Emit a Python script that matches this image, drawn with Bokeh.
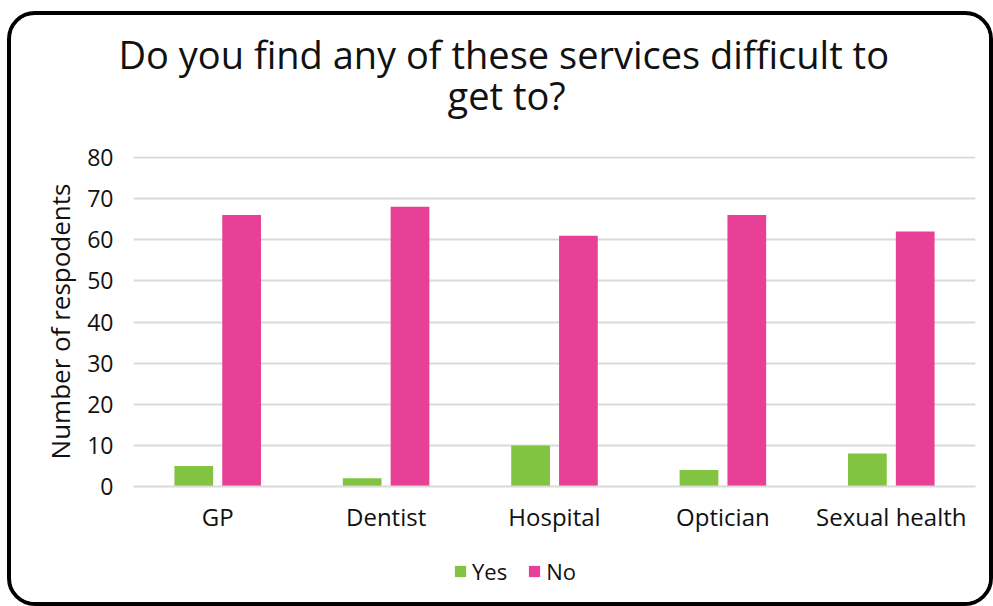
from bokeh.plotting import figure
from bokeh.layouts import column
from bokeh.models import (ColumnDataSource, FactorRange, Range1d, FixedTicker, Title,
                          Legend, LegendItem)
from bokeh.transform import dodge
from bokeh.embed import file_html
from bokeh.resources import INLINE

# ---- data ----
categories = ["GP", "Dentist", "Hospital", "Optician", "Sexual health"]
yes_counts = [5, 2, 10, 4, 8]
no_counts = [66, 68, 61, 66, 62]
y_ticks = [0, 10, 20, 30, 40, 50, 60, 70, 80]
title_lines = ["Do you find any of these services difficult to", "get to?"]
y_label = "Number of respodents"
series_names = ["Yes", "No"]

# ---- style ----
FONT = "Open Sans"
GREEN = "#82C341"
PINK = "#E84096"
GRID = "#D9D9D9"
TXT = "#111111"
W = 978
H_MAIN, H_LEG = 531, 56

src = ColumnDataSource(dict(cat=categories, yes=yes_counts, no=no_counts))

p = figure(width=W, height=H_MAIN, x_range=FactorRange(*categories),
           y_range=Range1d(0, 80.25),
           output_backend="svg", toolbar_location=None,
           min_border_left=122, min_border_right=14, min_border_top=141,
           min_border_bottom=60)

p.vbar(x=dodge("cat", -0.142, range=p.x_range), top="yes", width=0.23,
       source=src, fill_color=GREEN, line_color=None)
p.vbar(x=dodge("cat", 0.142, range=p.x_range), top="no", width=0.23,
       source=src, fill_color=PINK, line_color=None)

# axes
p.xaxis.axis_line_color = GRID
p.xaxis.axis_line_width = 2
p.xaxis.major_tick_line_color = None
p.xaxis.minor_tick_line_color = None
p.xaxis.major_label_text_font = FONT
p.xaxis.major_label_text_font_size = "24px"
p.xaxis.major_label_text_color = TXT
p.xaxis.major_label_standoff = 7

p.yaxis.ticker = FixedTicker(ticks=y_ticks)
p.yaxis.axis_line_color = None
p.yaxis.major_tick_line_color = None
p.yaxis.minor_tick_line_color = None
p.yaxis.major_label_text_font = FONT
p.yaxis.major_label_text_font_size = "23px"
p.yaxis.major_label_text_color = TXT
p.yaxis.major_label_standoff = 14
p.yaxis.axis_label = y_label
p.yaxis.axis_label_text_font = FONT
p.yaxis.axis_label_text_font_size = "26px"
p.yaxis.axis_label_text_font_style = "normal"
p.yaxis.axis_label_text_color = TXT
p.yaxis.axis_label_standoff = 6

p.xgrid.grid_line_color = None
p.ygrid.grid_line_color = GRID
p.ygrid.grid_line_width = 2
p.outline_line_color = None

# title (two lines; nearer line added first)
p.add_layout(Title(text=title_lines[1], align="left", offset=314, standoff=72,
                   text_font=FONT, text_font_size="38px", text_font_style="normal",
                   text_color=TXT), "above")
p.add_layout(Title(text=title_lines[0], align="left", offset=-15, standoff=-98,
                   text_font=FONT, text_font_size="38px", text_font_style="normal",
                   text_color=TXT), "above")

# legend strip (own small figure; swatch renderers hold no visible data)
pl = figure(width=W, height=H_LEG, x_range=Range1d(0, 1), y_range=Range1d(0, 1),
            output_backend="svg", toolbar_location=None, min_border=0,
            x_axis_location=None, y_axis_location=None)
pl.grid.visible = False
pl.outline_line_color = None
nan = float("nan")
ly = pl.vbar(x=[nan], top=[nan], width=0.1, fill_color=GREEN, line_color=None)
ln = pl.vbar(x=[nan], top=[nan], width=0.1, fill_color=PINK, line_color=None)
legend = Legend(items=[LegendItem(label=series_names[0], renderers=[ly]),
                       LegendItem(label=series_names[1], renderers=[ln])],
                orientation="horizontal", location=(320, 16),
                glyph_width=14, glyph_height=14, label_standoff=5, spacing=20,
                padding=0, margin=0, border_line_color=None,
                background_fill_alpha=0,
                label_text_font=FONT, label_text_font_size="22px",
                label_text_color=TXT)
pl.add_layout(legend, "center")

layout = column(p, pl, spacing=0,
                styles={"margin-left": "7px", "margin-top": "11px",
                        "border": "4px solid #000000", "border-radius": "28px",
                        "overflow": "hidden", "box-sizing": "content-box",
                        "background-color": "#ffffff"})

open("out.html", "w").write(file_html(layout, INLINE))
